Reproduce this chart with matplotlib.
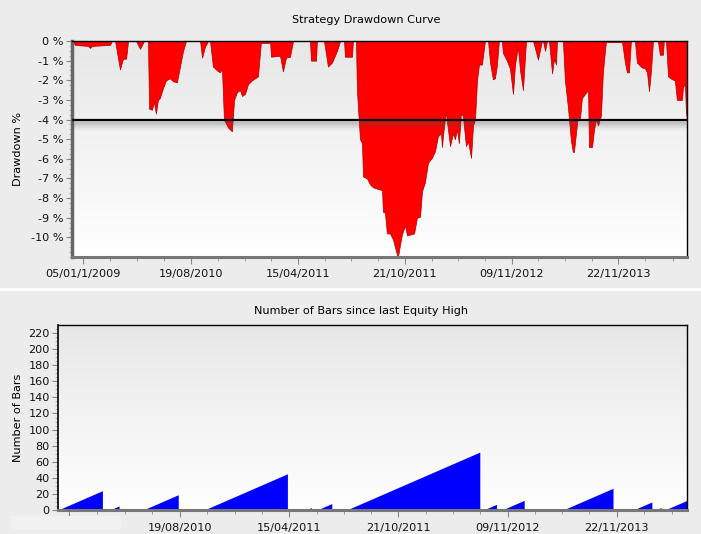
import matplotlib
matplotlib.use("Agg")
import matplotlib.pyplot as plt
import numpy as np
from matplotlib.colors import LinearSegmentedColormap
from matplotlib.patches import Rectangle

# drawdown curve vertices: bar index, drawdown %
dd_x = [0.0, 1.7, 8.8, 10.0, 11.1, 21.0, 22.1, 23.8, 25.4, 26.5, 28.2, 29.9, 31.0,
        35.4, 37.6, 39.8, 42.0, 42.6, 44.2, 45.3, 46.4, 47.5, 48.6, 50.3, 52.0,
        54.2, 55.8, 58.0, 59.7, 61.4, 63.0, 70.8, 71.9, 73.5, 75.2, 76.3, 77.9,
        80.2, 81.8, 82.9, 84.0, 86.2, 88.4, 89.6, 91.2, 92.9, 94.0, 95.6, 97.3,
        99.5, 102.8, 104.5, 105.0, 108.9, 109.5, 110.0, 115.0, 116.6, 118.3,
        120.5, 122.2, 131.6, 132.1, 134.9, 135.4, 139.3, 141.5, 143.7, 146.5,
        148.2, 150.4, 150.9, 154.8, 155.3, 157.0, 157.5, 159.2, 160.3, 160.9,
        163.1, 164.7, 166.4, 171.4, 171.9, 173.0, 174.1, 175.8, 177.4, 179.7,
        180.2, 181.3, 182.4, 184.1, 185.2, 189.1, 190.7, 192.4, 193.5, 195.1,
        196.8, 199.0, 200.7, 202.3, 204.0, 204.5, 205.6, 206.7, 207.3, 209.0,
        210.6, 211.7, 212.8, 213.9, 215.0, 216.1, 217.8, 218.9, 220.6, 221.7,
        222.8, 223.9, 225.0, 226.6, 228.3, 230.0, 231.1, 232.7, 233.8, 234.9,
        236.0, 237.7, 238.2, 240.4, 242.1, 243.8, 244.9, 246.5, 247.7, 249.3,
        251.0, 254.9, 257.6, 259.8, 260.4, 261.5, 262.6, 263.7, 265.4, 266.5,
        267.6, 268.1, 271.4, 272.5, 274.2, 275.8, 276.9, 277.5, 278.6, 279.7,
        280.8, 281.9, 283.6, 285.3, 285.8, 287.5, 288.6, 289.7, 290.8, 292.4,
        293.5, 295.2, 295.8, 303.5, 304.0, 305.7, 306.8, 307.9, 309.0, 311.2,
        312.3, 315.1, 316.8, 317.9, 319.0, 320.1, 321.2, 323.9, 325.0, 326.7,
        327.2, 328.4, 329.5, 331.7, 333.3, 334.4, 337.2, 337.8, 338.9, 339.4, 340.0]
dd_y = [0, -0.2, -0.25, -0.35, -0.25, -0.2, 0, 0, -0.85, -1.45, -0.9, -0.9, 0,
        0, -0.4, 0, 0, -3.45, -3.5, -3.1, -3.7, -3.0, -2.9, -2.4, -2.0,
        -1.9, -2.05, -2.1, -1.3, -0.5, 0, 0, -0.85, -0.3, 0, 0, -1.3,
        -1.5, -1.6, -1.4, -4.0, -4.4, -4.6, -3.0, -2.6, -2.5, -2.8, -2.7, -2.2,
        -2.0, -1.8, 0, -0.1, -0.1, 0, -0.8, -0.75, -1.55, -0.85,
        -0.8, 0, 0, -1.0, -1.0, 0, 0, -1.3, -1.1, -0.5,
        0, 0, -0.8, -0.8, 0, 0, -2.5, -5.0, -5.2, -6.9,
        -7.0, -7.3, -7.45, -7.6, -8.7, -8.75, -9.8, -9.8, -10.1, -10.9,
        -11.0, -10.4, -9.85, -9.4, -9.9, -9.8, -9.0, -8.95, -7.65, -7.2,
        -6.2, -5.95, -5.6, -4.85, -4.7, -5.4, -4.4, -3.6, -4.1, -5.35,
        -4.7, -5.0, -4.5, -5.2, -3.7, -3.8, -5.35, -5.1, -5.95, -4.3,
        -4.0, -2.0, -1.2, -1.2, 0, 0, -1.1, -1.95, -1.9, -1.25,
        0, 0, -0.6, -1.0, -1.4, -2.7, -1.2, -0.3, -1.5, -2.5,
        0, 0, -0.95, 0, 0, -0.5, 0, 0, -1.65, -0.9,
        -1.2, 0, 0, -2.0, -3.4, -5.05, -5.65, -5.65, -4.7, -3.8,
        -4.0, -2.9, -2.7, -2.5, -5.4, -5.4, -4.5, -4.0, -4.3, -3.8,
        -1.6, 0, -0.05, -0.05, 0, -1.1, -1.6, -1.6, 0, 0,
        -1.1, -1.35, -1.4, -1.6, -2.55, -1.5, 0, 0, -0.7, -0.7,
        0, 0, -1.8, -1.95, -2.0, -3.0, -3.0, -2.3, -2.3, -3.6, -4.0]

dd_limit = -4.0

# number of bars since last equity high (sawtooth vertices)
bars_x = [0, 24, 24, 28, 33, 33, 40, 42, 42, 46, 65, 65, 75, 77, 77, 79, 124, 124,
          134, 137, 137, 140, 148, 148, 154, 156, 156, 228, 228, 230, 237, 237,
          240, 252, 252, 257, 259, 259, 265, 268, 268, 273, 300, 300, 305, 308,
          308, 311, 321, 321, 323, 326, 326, 328, 340]
bars_y = [0, 24, 0, 0, 5, 0, 0, 2, 0, 0, 19, 0, 0, 2, 0, 0, 45, 0,
          0, 3, 0, 0, 8, 0, 0, 2, 0, 72, 0, 0, 7, 0,
          0, 12, 0, 0, 1, 0, 0, 2, 0, 0, 27, 0, 0, 2,
          0, 0, 10, 0, 0, 3, 0, 0, 12]

n_bars = 340
tick_bars = [6, 66, 125, 184, 243, 302]
tick_dates = ['05/01/1/2009', '19/08/2010', '15/04/2011', '21/10/2011',
              '09/11/2012', '22/11/2013']

plt.rcParams['font.family'] = ['DejaVu Sans']
plt.rcParams['font.size'] = 8.1

fig = plt.figure(figsize=(7.01, 5.34), dpi=100, facecolor='#ececec')
grad = LinearSegmentedColormap.from_list('bg', ['#e7e7e7', '#ffffff'])

# separator between panels
fig.add_artist(plt.Line2D([0, 1], [1 - 289 / 534, 1 - 289 / 534], color='white', lw=2))

minor_pos = []
for a, b in zip(tick_bars[:-1], tick_bars[1:]):
    minor_pos += list(np.linspace(a, b, 5)[1:-1])
minor_pos += [tick_bars[-1] + (tick_bars[1] - tick_bars[0]) / 4 * k for k in (1, 2)]


def style_axis(ax, ylo, yhi, thick_left):
    ax.imshow(np.linspace(0, 1, 256).reshape(-1, 1), cmap=grad, aspect='auto',
              extent=[0, n_bars, ylo, yhi], zorder=0)
    ax.set_xlim(0, n_bars)
    ax.set_ylim(ylo, yhi)
    for s in ['top', 'right']:
        ax.spines[s].set_color('black')
        ax.spines[s].set_linewidth(1.0)
    ax.spines['bottom'].set_color('#777777')
    ax.spines['bottom'].set_linewidth(2.2)
    ax.spines['left'].set_color('#666666' if thick_left else 'black')
    ax.spines['left'].set_linewidth(2.5 if thick_left else 1.2)
    ax.set_xticks(tick_bars)
    ax.set_xticks(minor_pos, minor=True)
    ax.tick_params(axis='x', which='major', length=5, color='#888888', pad=4)
    ax.tick_params(axis='x', which='minor', length=3, color='#888888')
    ax.tick_params(axis='y', which='major', length=4, color='#888888', pad=2)
    ax.tick_params(axis='y', which='minor', length=2, color='#aaaaaa')
    ax.tick_params(labelcolor='#111111')


# top: drawdown curve
ax1 = fig.add_axes([72 / 701, 1 - 257 / 534, 615 / 701, 216 / 534])
style_axis(ax1, -11, 0, True)
ax1.fill_between(dd_x, dd_y, 0, color='#ff0000', edgecolor='#b00000', lw=0.5, zorder=2)
for off, a in [(0.12, 0.18), (0.22, 0.14), (0.32, 0.08), (0.42, 0.04)]:
    ax1.axhline(dd_limit - off, color='#555555', lw=3, alpha=a, zorder=3)
ax1.axhline(dd_limit, color='black', lw=1.6, zorder=4)
ax1.set_yticks(np.arange(0, -11, -1))
ax1.set_yticklabels(['%d %%' % v for v in np.arange(0, -11, -1)])
ax1.set_yticks(np.arange(0, -11.01, -0.25), minor=True)
ax1.set_xticklabels(tick_dates)
ax1.set_ylabel('Drawdown %', labelpad=6)
ax1.set_title('Strategy Drawdown Curve', fontsize=8.1, pad=13, x=0.478)

# bottom: bars since last equity high
ax2 = fig.add_axes([58 / 701, 1 - 510 / 534, 629 / 701, 185 / 534])
style_axis(ax2, 0, 230, False)
ax2.fill_between(bars_x, bars_y, 0, color='#0000ff', lw=0, zorder=2)
ax2.set_yticks(np.arange(0, 221, 20))
ax2.set_yticks(np.arange(0, 230, 5), minor=True)
ax2.set_xticklabels([''] + tick_dates[1:])
ax2.set_ylabel('Number of Bars', labelpad=4)
ax2.set_title('Number of Bars since last Equity High', fontsize=8.1, pad=8, x=0.482)

# pale box over the hidden first date label
fig.add_artist(Rectangle((11 / 701, 1 - 530 / 534), 110 / 701, 14 / 534,
                         transform=fig.transFigure, color='#f1f1f1', lw=0))

fig.savefig('out.png', dpi=100, facecolor=fig.get_facecolor())
